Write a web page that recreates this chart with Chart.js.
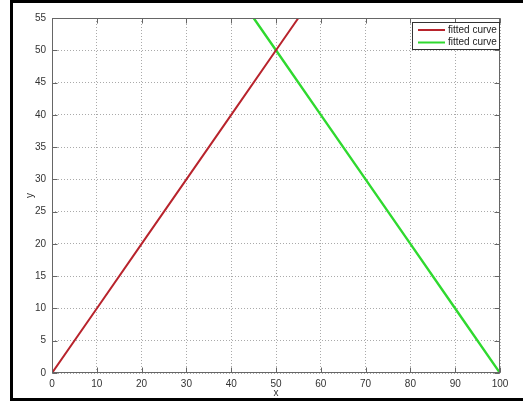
<!DOCTYPE html>
<html><head><meta charset="utf-8">
<script src="https://cdn.jsdelivr.net/npm/chart.js@4"></script>
<style>html,body{margin:0;padding:0;background:#fff}#wrap{width:523px;height:403px;position:relative}</style>
</head><body><div id="wrap"><canvas id="c" width="523" height="403"></canvas></div>
<script>
const seriesNames = ['fitted curve', 'fitted curve'];
const redX = [0, 10, 20, 30, 40, 50, 55];
const redY = [0, 10, 20, 30, 40, 50, 55];
const greenX = [45, 50, 60, 70, 80, 90, 100];
const greenY = [55, 50, 40, 30, 20, 10, 0];
const xTickValues = [0, 10, 20, 30, 40, 50, 60, 70, 80, 90, 100];
const yTickValues = [0, 5, 10, 15, 20, 25, 30, 35, 40, 45, 50, 55];
const xTitle = 'x';
const yTitle = 'y';

const toPts = (xs, ys) => xs.map((v, i) => ({x: v, y: ys[i]}));

Chart.defaults.font.family = '"Liberation Sans", Arial, sans-serif';
Chart.defaults.font.size = 10;
Chart.defaults.color = '#333';

const framePlugin = {
  id: 'frame',
  afterDraw(chart) {
    const {ctx, chartArea: {left, right, top, bottom}, scales: {x, y}} = chart;
    ctx.save();
    // axes box
    ctx.strokeStyle = '#666';
    ctx.lineWidth = 1;
    const L = Math.round(left) + 0.5, R = Math.round(right) - 0.5, T = Math.round(top) + 0.5, B = Math.round(bottom) - 0.5;
    ctx.strokeRect(L, T, R - L, B - T);
    ctx.beginPath();
    xTickValues.forEach(v => {
      const px = Math.round(x.getPixelForValue(v)) + 0.5;
      ctx.moveTo(px, B); ctx.lineTo(px, B - 5);
      ctx.moveTo(px, T); ctx.lineTo(px, T + 5);
    });
    yTickValues.forEach(v => {
      const py = Math.round(y.getPixelForValue(v)) + 0.5;
      ctx.moveTo(L, py); ctx.lineTo(L + 5, py);
      ctx.moveTo(R, py); ctx.lineTo(R - 5, py);
    });
    ctx.stroke();
    // legend
    const lx = 412, ly = 22, lw = 87, lh = 27;
    ctx.fillStyle = '#fff';
    ctx.fillRect(lx, ly, lw, lh);
    ctx.strokeStyle = '#333';
    ctx.strokeRect(lx + 0.5, ly + 0.5, lw, lh);
    ctx.font = '10px "Liberation Sans", Arial, sans-serif';
    ctx.textBaseline = 'middle';
    chart.data.datasets.forEach((ds, i) => {
      const yy = ly + 8 + i * 12.5;
      ctx.strokeStyle = ds.borderColor;
      ctx.lineWidth = 2;
      ctx.beginPath(); ctx.moveTo(418, yy); ctx.lineTo(445, yy); ctx.stroke();
      ctx.fillStyle = '#222';
      ctx.fillText(ds.label, 448, yy);
    });
    // outer frame
    ctx.fillStyle = '#000';
    ctx.fillRect(10, 0, 523 - 10, 3);
    ctx.fillRect(10, 0, 3, 401);
    ctx.fillRect(10, 398, 523 - 10, 3);
    ctx.restore();
  }
};

new Chart(document.getElementById('c'), {
  type: 'scatter',
  data: {
    datasets: [
      {label: seriesNames[0], data: toPts(redX, redY), showLine: true, borderColor: '#b8232c', borderWidth: 2, pointRadius: 0, fill: false},
      {label: seriesNames[1], data: toPts(greenX, greenY), showLine: true, borderColor: '#2fd92f', borderWidth: 2.4, pointRadius: 0, fill: false}
    ]
  },
  options: {
    responsive: false,
    animation: false,
    devicePixelRatio: 1,
    layout: {padding: {left: 0, top: 18, right: 23, bottom: 0}},
    plugins: {legend: {display: false}, tooltip: {enabled: false}},
    scales: {
      x: {
        type: 'linear', min: 0, max: 100,
        afterBuildTicks: s => { s.ticks = xTickValues.map(v => ({value: v})); },
        afterFit: s => { s.height = 30; },
        grid: {color: '#aaa', drawTicks: false},
        border: {display: false, dash: [1, 2]},
        ticks: {padding: 5, color: '#333', maxRotation: 0, autoSkip: false},
        title: {display: true, text: xTitle, color: '#333', padding: {top: 0, bottom: 4}, font: {size: 10}}
      },
      y: {
        type: 'linear', min: 0, max: 55,
        afterBuildTicks: s => { s.ticks = yTickValues.map(v => ({value: v})); },
        afterFit: s => { s.width = 52; },
        grid: {color: '#aaa', drawTicks: false},
        border: {display: false, dash: [1, 2]},
        ticks: {padding: 6, color: '#333', autoSkip: false},
        title: {display: true, text: yTitle, color: '#333', padding: {top: 24, bottom: 0}, font: {size: 10}}
      }
    }
  },
  plugins: [framePlugin]
});
</script>
</body></html>
